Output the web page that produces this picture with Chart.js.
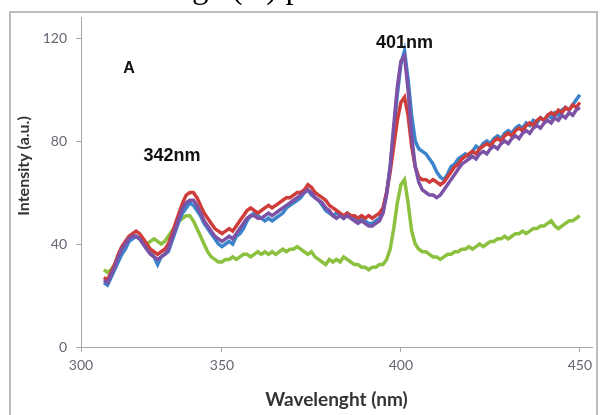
<!DOCTYPE html>
<html>
<head>
<meta charset="utf-8">
<script src="https://cdn.jsdelivr.net/npm/chart.js@4"></script>
<style>
  html, body { margin: 0; padding: 0; background: #fff; }
  #wrap { width: 600px; height: 415px; }
</style>
</head>
<body>
<div id="wrap"><canvas id="spectra" width="600" height="415"></canvas></div>
<script>
// Wavelength grid (nm)
const wavelengths = [
  317, 318, 319, 320, 321, 322, 323, 324, 325, 326,
  327, 328, 329, 330, 331, 332, 333, 334, 335, 336,
  337, 338, 339, 340, 341, 342, 343, 344, 345, 346,
  347, 348, 349, 350, 351, 352, 353, 354, 355, 356,
  357, 358, 359, 360, 361, 362, 363, 364, 365, 366,
  367, 368, 369, 370, 371, 372, 373, 374, 375, 376,
  377, 378, 379, 380, 381, 382, 383, 384, 385, 386,
  387, 388, 389, 390, 391, 392, 393, 394, 395, 396,
  397, 398, 399, 400, 401, 402, 403, 404, 405, 406,
  407, 408, 409, 410, 411, 412, 413, 414, 415, 416,
  417, 418, 419, 420, 421, 422, 423, 424, 425, 426,
  427, 428, 429, 430, 431, 432, 433, 434, 435, 436,
  437, 438, 439, 440, 441, 442, 443, 444, 445, 446,
  447, 448, 449, 450
];

// Intensity (a.u.), one value per wavelength
const blueSeries = [
  25, 24, 27, 30, 33, 36, 38, 41, 42, 43,
  42, 40, 38, 37, 35, 32, 35, 36, 37, 41,
  45, 49, 52, 54, 56, 55, 53, 51, 48, 46,
  44, 42, 40, 39, 40, 41, 40, 43, 44, 46,
  49, 51, 52, 51, 50, 49, 50, 49, 50, 51,
  52, 54, 55, 56, 57, 58, 60, 61, 59, 58,
  57, 55, 53, 52, 51, 52, 51, 50, 52, 51,
  50, 49, 50, 49, 48, 48, 49, 50, 53, 60,
  70, 84, 98, 110, 115, 104, 90, 80, 77, 76,
  75, 73, 71, 68, 66, 65, 67, 70, 71, 73,
  74, 75, 74, 76, 78, 77, 79, 80, 79, 81,
  82, 81, 83, 84, 83, 85, 86, 85, 87, 86,
  88, 87, 89, 88, 90, 89, 91, 90, 92, 93,
  92, 94, 96, 98
];

const redSeries = [
  27, 26, 29, 32, 36, 39, 41, 43, 44, 45,
  44, 42, 40, 38, 37, 36, 37, 38, 40, 44,
  48, 52, 56, 59, 60, 60, 58, 55, 52, 50,
  48, 46, 45, 44, 45, 46, 45, 47, 49, 51,
  53, 54, 53, 52, 53, 54, 55, 54, 55, 56,
  57, 58, 58, 59, 60, 60, 61, 63, 62, 60,
  59, 58, 57, 55, 54, 53, 52, 51, 52, 51,
  51, 50, 51, 50, 51, 50, 51, 52, 54, 60,
  68, 78, 88, 95, 97, 90, 78, 70, 66, 65,
  65, 64, 65, 64, 63, 64, 66, 68, 70, 71,
  73, 74, 75, 76, 75, 77, 78, 79, 78, 80,
  81, 80, 82, 83, 82, 84, 85, 84, 86, 87,
  86, 88, 89, 88, 90, 91, 90, 92, 91, 93,
  92, 94, 93, 95
];

const purpleSeries = [
  26, 25, 28, 31, 35, 38, 40, 42, 43, 43,
  42, 40, 38, 36, 35, 34, 35, 36, 38, 42,
  46, 50, 54, 56, 57, 57, 55, 52, 49, 47,
  45, 43, 42, 41, 42, 43, 42, 44, 46, 48,
  50, 51, 51, 50, 50, 51, 52, 51, 52, 53,
  54, 55, 56, 57, 58, 59, 60, 61, 60, 58,
  57, 56, 54, 53, 51, 50, 51, 50, 51, 50,
  49, 48, 49, 48, 47, 47, 48, 49, 52, 59,
  70, 86, 101, 111, 113, 100, 82, 70, 64, 61,
  60, 59, 59, 58, 59, 61, 63, 65, 67, 69,
  71, 72, 73, 74, 73, 75, 76, 75, 77, 78,
  77, 79, 80, 79, 81, 82, 81, 83, 84, 83,
  85, 86, 85, 87, 88, 87, 89, 88, 90, 89,
  91, 90, 92, 93
];

const greenSeries = [
  30, 29, 30, 32, 35, 38, 40, 42, 43, 43,
  42, 41, 40, 41, 42, 41, 40, 41, 43, 45,
  47, 49, 50, 51, 51, 49, 46, 43, 40, 37,
  35, 34, 33, 33, 34, 34, 35, 34, 35, 36,
  36, 35, 36, 37, 36, 37, 36, 37, 36, 37,
  38, 37, 38, 38, 39, 38, 37, 36, 37, 35,
  34, 33, 32, 34, 33, 34, 33, 35, 34, 33,
  32, 32, 31, 31, 30, 31, 31, 32, 32, 34,
  38, 46, 56, 63, 65, 56, 45, 40, 38, 37,
  37, 36, 35, 35, 34, 35, 36, 36, 37, 37,
  38, 38, 39, 38, 39, 40, 39, 40, 41, 41,
  42, 42, 43, 42, 43, 44, 44, 45, 44, 45,
  46, 46, 47, 47, 48, 49, 47, 46, 47, 48,
  49, 49, 50, 51
];

// Axis ticks (the "300" label sits at the start of the axis in the original)
const xTickValues = [310.6, 350, 400, 450];
const xTickLabels = ['300', '350', '400', '450'];
const yTickValues = [0, 40, 80, 120];
const yTickLabels = ['0', '40', '80', '120'];

// Text notes placed in data units
const noteTexts = ['A', '342nm', '401nm'];
const noteX = [324, 336, 401];
const noteY = [108, 74, 118];

const tickFont = { family: 'Lato, "Liberation Sans", sans-serif', size: 14 };
const tickColor = '#6c6473';
const axisColor = '#a8a8a8';

function makeLine(label, values, color) {
    return {
        label: label,
        data: wavelengths.map((nm, i) => ({ x: nm, y: values[i] })),
        borderColor: color,
        borderWidth: 3.5,
        pointRadius: 0,
        tension: 0,
        fill: false
    };
}

// Frame, cut-off caption, notes and axis titles
const decorPlugin = {
    id: 'decor',
    beforeDraw(chart) {
        const c = chart.ctx;
        c.save();
        c.fillStyle = '#fff';
        c.fillRect(0, 0, chart.width, chart.height);
        c.fillStyle = '#000';
        c.font = '33px "Liberation Serif", serif';
        c.textBaseline = 'alphabetic';
        c.fillText('ge (A) p', 192, -2);
        c.strokeStyle = '#bdbdbd';
        c.lineWidth = 2;
        c.strokeRect(10, 12, 587, 420);
        c.restore();
    },
    afterDraw(chart) {
        const c = chart.ctx;
        const xs = chart.scales.x, ys = chart.scales.y;
        c.save();
        c.fillStyle = '#111';
        c.textAlign = 'center';
        c.textBaseline = 'middle';
        noteTexts.forEach((t, i) => {
            c.font = t === 'A'
                ? 'bold 16px "Liberation Sans", Arial, sans-serif'
                : 'bold 18px "Liberation Sans Narrow", "Liberation Sans", sans-serif';
            c.fillText(t, xs.getPixelForValue(noteX[i]), ys.getPixelForValue(noteY[i]));
        });
        c.fillStyle = '#333';
        c.font = 'bold 19px Lato, "Liberation Sans", sans-serif';
        c.fillText('Wavelenght (nm)', (chart.chartArea.left + chart.chartArea.right) / 2, 400);
        c.translate(24, 166);
        c.rotate(-Math.PI / 2);
        c.font = 'bold 16px Lato, "Liberation Sans", sans-serif';
        c.fillText('Intensity (a.u.)', 0, 0);
        c.restore();
    }
};

document.addEventListener('DOMContentLoaded', () => {
    const ctx = document.getElementById('spectra').getContext('2d');
    new Chart(ctx, {
        type: 'line',
        data: {
            datasets: [
                makeLine('purple', purpleSeries, '#7c52a6'),
                makeLine('red', redSeries, '#cf3d3a'),
                makeLine('blue', blueSeries, '#3b84cc'),
                makeLine('green', greenSeries, '#8cc03f')
            ]
        },
        options: {
            responsive: false,
            animation: false,
            layout: { padding: { top: 17, right: 8, left: 0, bottom: 0 } },
            plugins: { legend: { display: false }, tooltip: { enabled: false } },
            scales: {
                x: {
                    type: 'linear',
                    min: 310.6,
                    max: 453.4,
                    afterBuildTicks: s => { s.ticks = xTickValues.map(v => ({ value: v })); },
                    afterFit: s => { s.height = 68; },
                    ticks: { callback: (v, i) => xTickLabels[i], color: tickColor, font: tickFont, padding: 5, maxRotation: 0, autoSkip: false },
                    grid: { drawOnChartArea: false, tickLength: 5, color: axisColor },
                    border: { color: axisColor }
                },
                y: {
                    type: 'linear',
                    min: 0,
                    max: 128,
                    afterBuildTicks: s => { s.ticks = yTickValues.map(v => ({ value: v })); },
                    afterFit: s => { s.width = 81; },
                    ticks: { callback: (v, i) => yTickLabels[i], color: tickColor, font: tickFont, padding: 9 },
                    grid: { drawOnChartArea: false, tickLength: 5, color: axisColor },
                    border: { color: axisColor }
                }
            }
        },
        plugins: [decorPlugin]
    });
});
</script>
</body>
</html>
